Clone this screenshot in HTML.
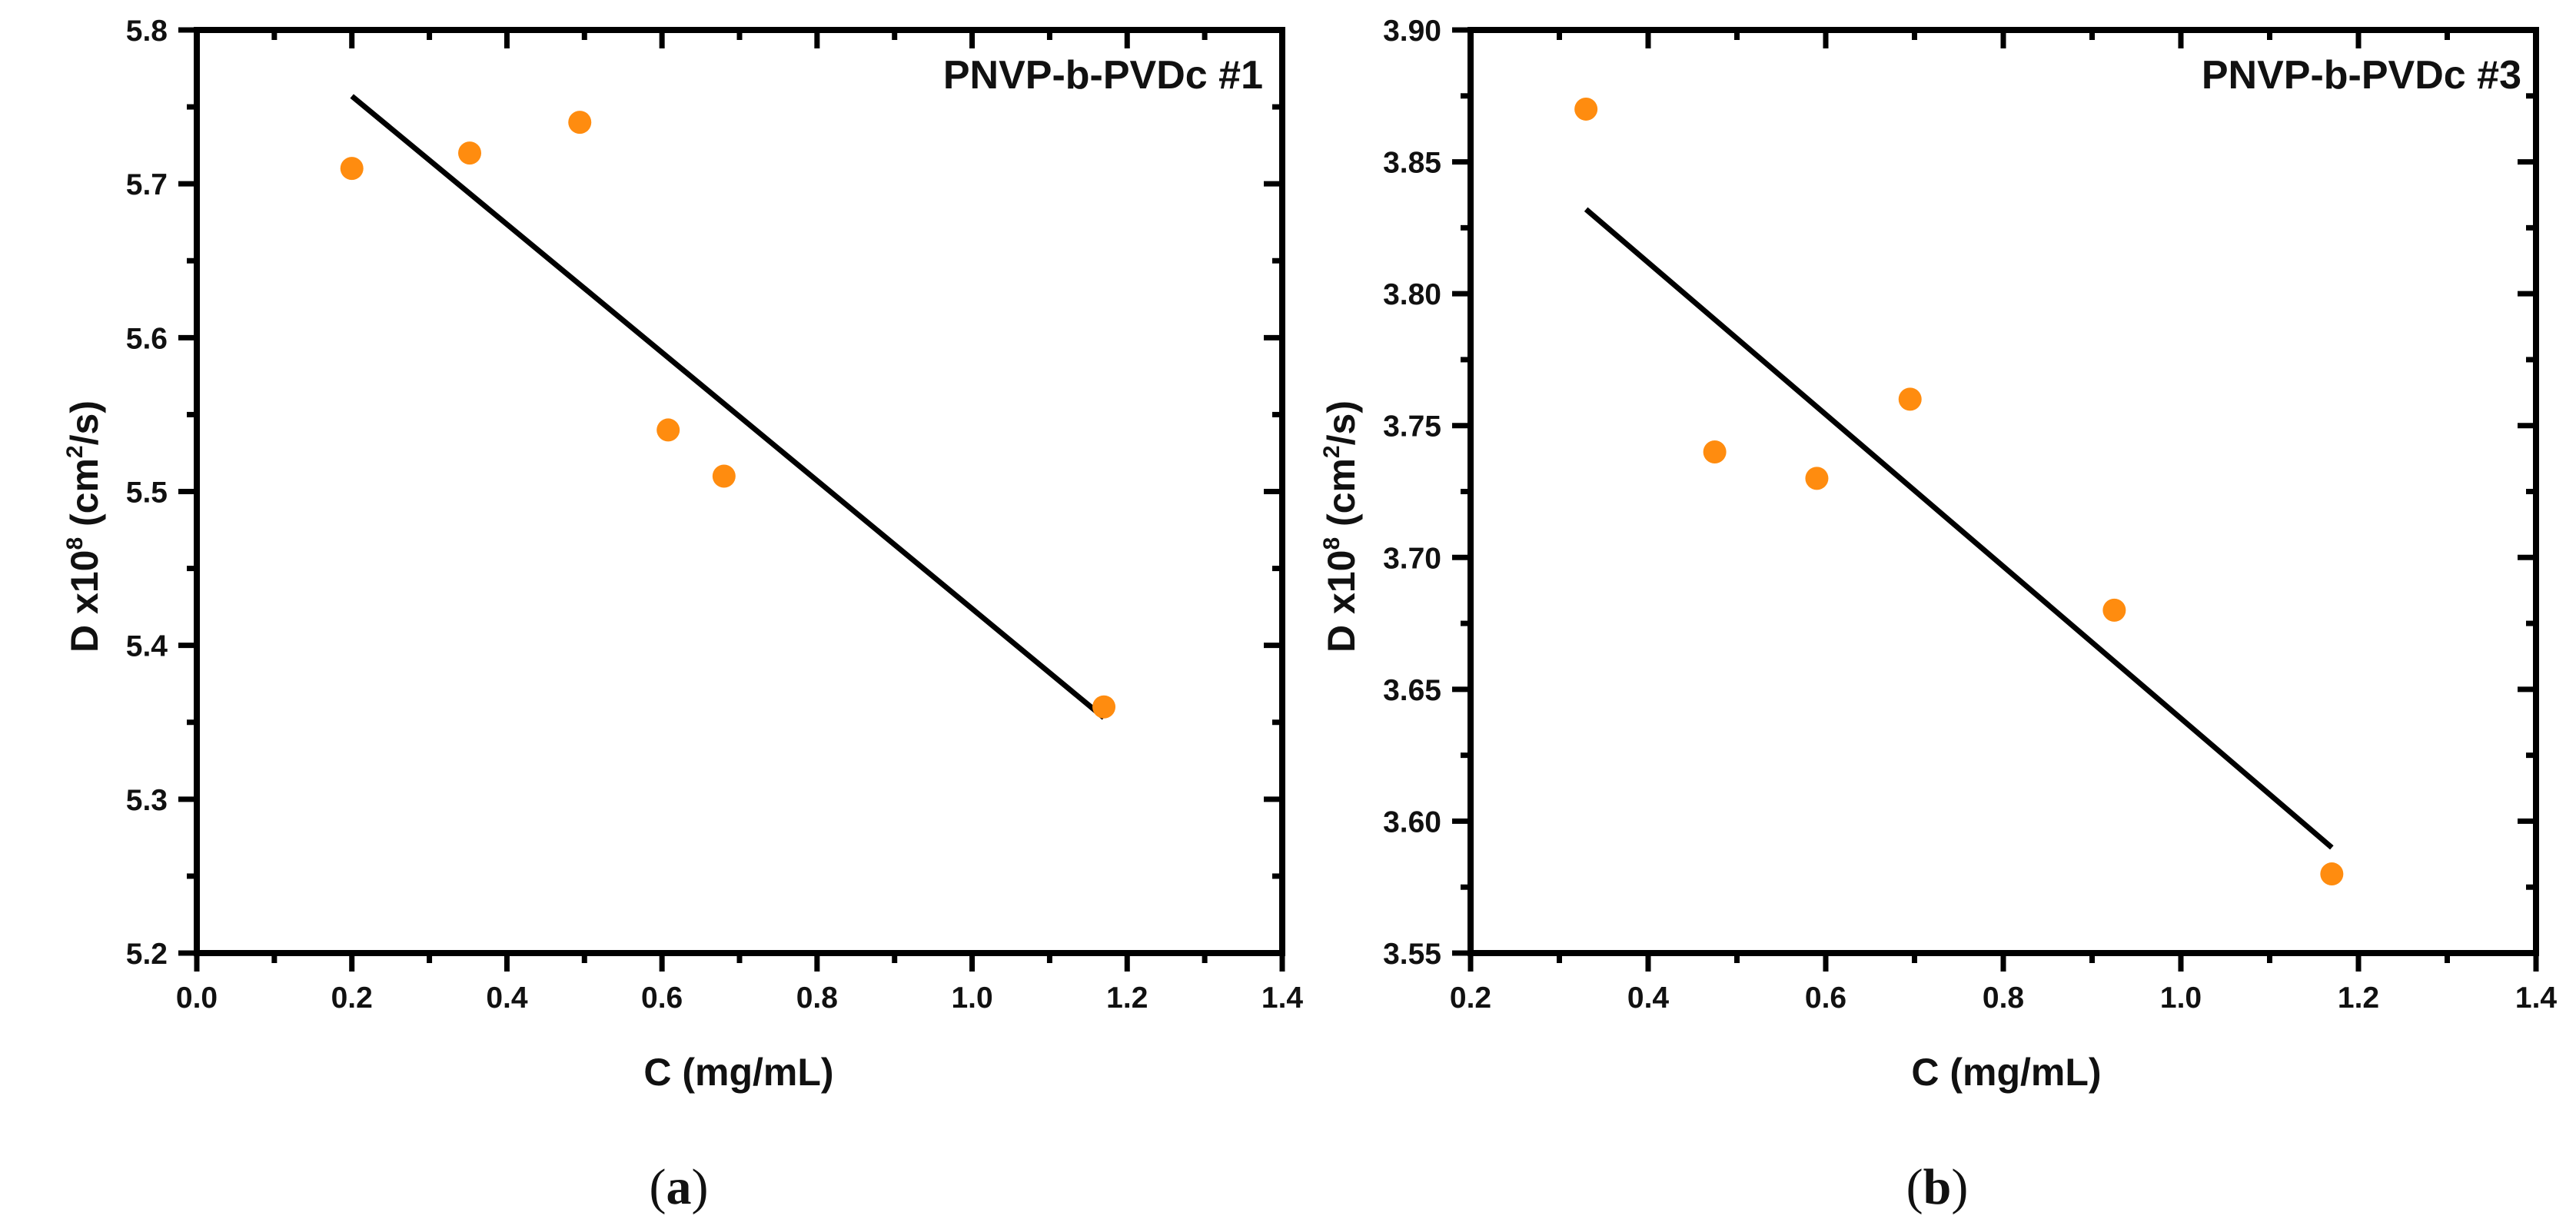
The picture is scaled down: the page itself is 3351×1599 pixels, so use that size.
<!DOCTYPE html>
<html><head><meta charset="utf-8"><style>
html,body{margin:0;padding:0;background:#fff;}
svg{display:block;}
text{font-family:"Liberation Sans",Arial,sans-serif;font-weight:bold;fill:#111;}
.cap{font-family:"Liberation Serif",serif;font-weight:normal;}
</style></head><body>
<svg id="fig" width="3351" height="1599" viewBox="0 0 3351 1599" xmlns="http://www.w3.org/2000/svg"></svg>
<script>
// Panel (a) data
const aX = [0.2, 0.352, 0.494, 0.608, 0.68, 1.17];
const aY = [5.71, 5.72, 5.74, 5.54, 5.51, 5.36];
const aFitX = [0.2, 1.17];
const aFitY = [5.757, 5.353];
const aXTicks = [0.0, 0.2, 0.4, 0.6, 0.8, 1.0, 1.2, 1.4];
const aXTickLabels = ["0.0","0.2","0.4","0.6","0.8","1.0","1.2","1.4"];
const aYTicks = [5.2, 5.3, 5.4, 5.5, 5.6, 5.7, 5.8];
const aYTickLabels = ["5.2","5.3","5.4","5.5","5.6","5.7","5.8"];
// Panel (b) data
const bX = [0.33, 0.475, 0.59, 0.695, 0.925, 1.17];
const bY = [3.87, 3.74, 3.73, 3.76, 3.68, 3.58];
const bFitX = [0.33, 1.17];
const bFitY = [3.832, 3.590];
const bXTicks = [0.2, 0.4, 0.6, 0.8, 1.0, 1.2, 1.4];
const bXTickLabels = ["0.2","0.4","0.6","0.8","1.0","1.2","1.4"];
const bYTicks = [3.55, 3.60, 3.65, 3.70, 3.75, 3.80, 3.85, 3.90];
const bYTickLabels = ["3.55","3.60","3.65","3.70","3.75","3.80","3.85","3.90"];

const NS = "http://www.w3.org/2000/svg";
const svg = document.getElementById('fig');
function mk(tag, attrs, parent, txt){
  const e = document.createElementNS(NS, tag);
  for (const k in attrs) e.setAttribute(k, attrs[k]);
  if (txt !== undefined) e.textContent = txt;
  (parent||svg).appendChild(e);
  return e;
}

function panel(cfg){
  const g = mk('g', {});
  
  
  const L=cfg.L, R=cfg.R, T=39, B=1240;
  const sx = v => L + (v - cfg.x0)/(cfg.x1 - cfg.x0)*(R-L);
  const sy = v => B - (v - cfg.y0)/(cfg.y1 - cfg.y0)*(B-T);
  // minor ticks
  for (let i=0;i<cfg.xTicks.length-1;i++){
    const xv = (cfg.xTicks[i]+cfg.xTicks[i+1])/2, x=sx(xv);
    const t1 = mk('line',{x1:x,y1:B,x2:x,y2:B+13,stroke:'#000','stroke-width':7},g);
    
    
    const t2 = mk('line',{x1:x,y1:T,x2:x,y2:T+13,stroke:'#000','stroke-width':7},g);
    
    
  }
  for (let i=0;i<cfg.yTicks.length-1;i++){
    const yv = (cfg.yTicks[i]+cfg.yTicks[i+1])/2, y=sy(yv);
    const t1 = mk('line',{x1:L-13,y1:y,x2:L,y2:y,stroke:'#000','stroke-width':7},g);
    
    
    const t2 = mk('line',{x1:R-13,y1:y,x2:R,y2:y,stroke:'#000','stroke-width':7},g);
    
    
  }
  cfg.xTicks.forEach((v,i)=>{
    const x=sx(v);
    const t = mk('line',{x1:x,y1:B,x2:x,y2:B+24,stroke:'#000','stroke-width':7},g);
    
    
    const t2 = mk('line',{x1:x,y1:T,x2:x,y2:T+24,stroke:'#000','stroke-width':7},g);
    
    
    const lb = mk('text',{x:x,y:1311,'text-anchor':'middle','font-size':39},g,cfg.xLabels[i]);
    
    
  });
  cfg.yTicks.forEach((v,i)=>{
    const y=sy(v);
    const t = mk('line',{x1:L-24,y1:y,x2:L,y2:y,stroke:'#000','stroke-width':7},g);
    
    
    const t2 = mk('line',{x1:R-24,y1:y,x2:R,y2:y,stroke:'#000','stroke-width':7},g);
    
    
    const lb = mk('text',{x:cfg.labR,y:y+14,'text-anchor':'end','font-size':39},g,cfg.yLabels[i]);
    
    
  });
  const frame = mk('rect',{x:L,y:T,width:R-L,height:B-T,fill:'none',stroke:'#000','stroke-width':8},g);
  
  
  const fit = mk('line',{x1:sx(cfg.fitX[0]),y1:sy(cfg.fitY[0]),x2:sx(cfg.fitX[1]),y2:sy(cfg.fitY[1]),stroke:'#000','stroke-width':7},g);
  
  
  cfg.xs.forEach((v,i)=>{
    const c = mk('circle',{cx:sx(v),cy:sy(cfg.ys[i]),r:15,fill:'#ff8c0f'},g);
    
    
  });
  const an = mk('text',{x:cfg.annR,y:115,'text-anchor':'end','font-size':52},g,cfg.ann);
  
  
  const xt = mk('text',{x:cfg.xTitleX,y:1412,'text-anchor':'middle','font-size':50},g,'C (mg/mL)');
  
  
  const yt = mk('text',{x:0,y:0,'text-anchor':'middle','font-size':50,transform:`translate(${cfg.yTitleX+18},685) rotate(-90)`},g);
  
  
  mk('tspan',{},yt,'D x10');
  mk('tspan',{'font-size':30,dy:-20},yt,'8');
  mk('tspan',{dy:20},yt,' (cm');
  mk('tspan',{'font-size':30,dy:-20},yt,'2');
  mk('tspan',{dy:20},yt,'/s)');
  const cap = mk('text',{x:cfg.capX,y:1566,'text-anchor':'middle','font-size':66,'class':'cap'},g);
  
  
  mk('tspan',{},cap,'(');
  mk('tspan',{'font-weight':'bold'},cap,cfg.letter);
  mk('tspan',{},cap,')');
}

panel({name:'panel-a',L:256,R:1668,x0:0,x1:1.4,y0:5.2,y1:5.8,xTicks:aXTicks,xLabels:aXTickLabels,yTicks:aYTicks,yLabels:aYTickLabels,
  xs:aX,ys:aY,fitX:aFitX,fitY:aFitY,labR:218,ann:'PNVP-b-PVDc #1',annR:1643,xTitleX:961,yTitleX:109,capX:883,letter:'a'});
panel({name:'panel-b',L:1913,R:3299,x0:0.2,x1:1.4,y0:3.55,y1:3.90,xTicks:bXTicks,xLabels:bXTickLabels,yTicks:bYTicks,yLabels:bYTickLabels,
  xs:bX,ys:bY,fitX:bFitX,fitY:bFitY,labR:1875,ann:'PNVP-b-PVDc #3',annR:3280,xTitleX:2610,yTitleX:1744,capX:2520,letter:'b'});
</script>
</body></html>
